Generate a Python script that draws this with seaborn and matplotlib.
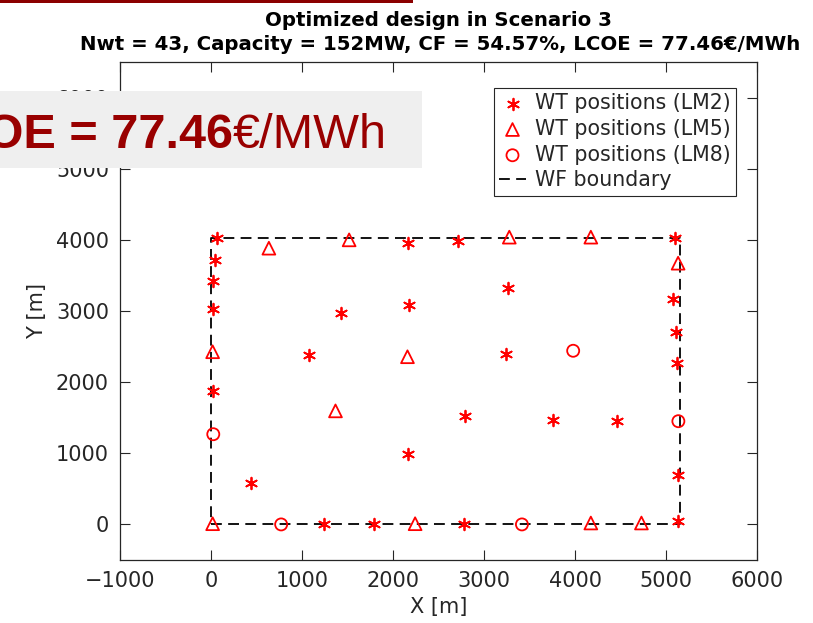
import numpy as np
import pandas as pd
import matplotlib
matplotlib.use("Agg")
import matplotlib.pyplot as plt
import seaborn as sns

# ---- data ----
lm2_x = [63, 2166, 2715, 44, 25, 25, 1430, 2173, 1082, 25, 2791, 5100, 3267,
         5081, 5107, 5118, 3243, 435, 2169, 1240, 1796, 2777, 3761, 4460, 5133, 5133]
lm2_y = [4024, 3962, 3990, 3718, 3423, 3024, 2977, 3085, 2380, 1878, 1521, 4024, 3320,
         3169, 2700, 2272, 2394, 582, 996, 0, 0, 0, 1465, 1455, 690, 46]
lm5_x = [636, 1518, 18, 2159, 1368, 3278, 4174, 5133, 18, 2243, 4174, 4730]
lm5_y = [3883, 4000, 2427, 2357, 1596, 4038, 4038, 3672, 10, 10, 20, 20]
lm8_x = [3980, 25, 771, 5136, 3417]
lm8_y = [2441, 1268, 0, 1451, 0]
bnd_x = [0, 5150, 5150, 0, 0]
bnd_y = [0, 0, 4020, 4020, 0]

xticks = [-1000, 0, 1000, 2000, 3000, 4000, 5000, 6000]
yticks = [0, 1000, 2000, 3000, 4000, 5000, 6000]

title1 = "Optimized design in Scenario 3"
title2 = "Nwt = 43, Capacity = 152MW, CF = 54.57%, LCOE = 77.46€/MWh"

sns.set_theme(style="white")
plt.rcParams['font.family'] = ['DejaVu Sans']

fig = plt.figure(figsize=(8.13, 6.23), dpi=100)
ax = fig.add_axes([120 / 813, 1 - 560 / 623, (757 - 120) / 813, (560 - 62) / 623])

red = "#ff0000"
df2 = pd.DataFrame({"x": lm2_x, "y": lm2_y})
df5 = pd.DataFrame({"x": lm5_x, "y": lm5_y})
df8 = pd.DataFrame({"x": lm8_x, "y": lm8_y})

sns.scatterplot(data=df2, x="x", y="y", ax=ax, marker=(6, 2, 0), s=70,
                color=red, edgecolor=red, linewidth=1.3, label="WT positions (LM2)", zorder=3)
sns.scatterplot(data=df5, x="x", y="y", ax=ax, marker="^", s=85,
                facecolor="none", edgecolor=red, linewidth=1.3, label="WT positions (LM5)", zorder=3)
sns.scatterplot(data=df8, x="x", y="y", ax=ax, marker="o", s=75,
                facecolor="none", edgecolor=red, linewidth=1.3, label="WT positions (LM8)", zorder=3)
ax.plot(bnd_x, bnd_y, linestyle=(0, (6, 3.5)), color="black", linewidth=1.3,
        label="WF boundary", zorder=2)

ax.set_xlim(-1000, 6000)
ax.set_ylim(-500, 6500)
ax.set_xticks(xticks)
ax.set_yticks(yticks)
ax.set_xticklabels(["\u22121000"] + [str(t) for t in xticks[1:]])
ax.tick_params(axis="both", direction="in", length=7, width=0.8, color="#262626",
               labelsize=15, labelcolor="#262626", top=True, right=True,
               bottom=True, left=True, pad=8)
for s in ax.spines.values():
    s.set_color("#262626")
    s.set_linewidth(0.9)
ax.set_xlabel("X [m]", fontsize=15, color="#262626", labelpad=4)
ax.set_ylabel("Y [m]", fontsize=15, color="#262626", labelpad=6)

fig.text(438 / 813, 1 - 20 / 623, title1, ha="center", va="center",
         fontsize=14.2, fontweight="bold", color="black")
fig.text(440 / 813, 1 - 45 / 623, title2, ha="center", va="center",
         fontsize=14.2, fontweight="bold", color="black")

leg = ax.legend(loc="upper right", bbox_to_anchor=(736 / 813, 1 - 88 / 623),
                bbox_transform=fig.transFigure, fontsize=14.8, frameon=True,
                fancybox=False, framealpha=1, edgecolor="#262626",
                handlelength=1.3, handletextpad=0.45, borderpad=0.25,
                borderaxespad=0, labelspacing=0.28)
leg.get_frame().set_linewidth(0.8)

# slide overlay
fig.patches.append(plt.Rectangle((0, 1 - 168 / 623), 422 / 813, (168 - 91) / 623,
                                 transform=fig.transFigure, facecolor="#efefef",
                                 edgecolor="none", zorder=10))
fig.patches.append(plt.Rectangle((0, 1 - 3 / 623), 413 / 813, 3 / 623,
                                 transform=fig.transFigure, facecolor="#8b0000",
                                 edgecolor="none", zorder=10))
fig.text(233 / 813, 1 - 148 / 623, "LCOE = 77.46", ha="right", va="baseline",
         fontsize=35, fontweight="bold", color="#990000",
         family=["Liberation Sans"], zorder=11)
fig.text(233 / 813, 1 - 148 / 623, "€/MWh", ha="left", va="baseline",
         fontsize=35, color="#990000", family=["Liberation Sans"], zorder=11)

fig.savefig("out.png", dpi=100)
